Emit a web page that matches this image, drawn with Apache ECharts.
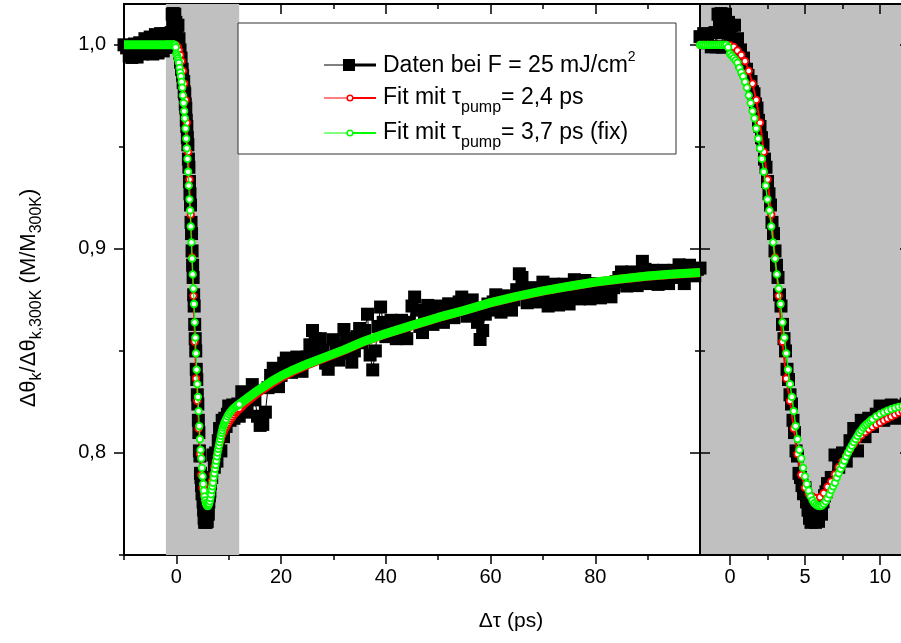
<!DOCTYPE html>
<html>
<head>
<meta charset="utf-8">
<title>Daten bei F = 25 mJ/cm2</title>
<script src="https://cdn.jsdelivr.net/npm/echarts@6.0.0/dist/echarts.min.js"></script>
<style>
html,body{margin:0;padding:0;background:#fff;}
#chart{width:901px;height:643px;}
</style>
</head>
<body>
<div id="chart"></div>
<script>
// Messdaten [t (ps), M/M300K]
var dataPre = [[-10,1.0000],[-9.5,0.9985],[-9,0.9945],[-8.5,0.9938],[-8,1.0004],[-7.5,0.9940],[-7,1.0010],[-6.5,0.9955],
  [-6,1.0030],[-5.5,0.9958],[-5,1.0038],[-4.5,0.9955],[-4,1.0050],[-3.5,0.9960],[-3,1.0055],[-2.5,0.9970]];
var dataPeak = [[-2,1.0040],[-1.75,1.0055],[-1.5,1.0010],[-1.25,0.9990],
  [-1,1.0060],[-0.9,0.9990],[-0.8,1.0150],[-0.7,1.0090],[-0.6,1.0153],[-0.5,0.9988],[-0.4,1.0140],[-0.3,1.0150],
  [-0.2,1.0060],[-0.1,1.0110],[0,1.0040],[0.1,1.0095],[0.2,1.0020],[0.3,1.0096],[0.4,0.9990],[0.5,1.0030],
  [0.6,0.9960],[0.7,0.9975],[0.8,0.9915],[0.9,0.9935],[1,0.9880],[1.1,0.9880],[1.2,0.9850],[1.3,0.9815],
  [1.4,0.9820],[1.5,0.9770],[1.6,0.9760],[1.7,0.9710],[1.8,0.9690],[1.9,0.9630],[2,0.9600],[2.1,0.9545],
  [2.2,0.9510],[2.3,0.9440],[2.4,0.9400],[2.5,0.9330],[2.6,0.9270],[2.7,0.9215],[2.8,0.9130],[2.9,0.9075],
  [3,0.8990],[3.1,0.8920],[3.2,0.8860],[3.3,0.8775],[3.4,0.8720],[3.5,0.8630],[3.6,0.8560],[3.7,0.8500],
  [3.8,0.8410],[3.9,0.8360],[4,0.8285],[4.1,0.8240],[4.2,0.8160],[4.3,0.8100],[4.4,0.8010],[4.5,0.7985],
  [4.6,0.7900],[4.7,0.7880],[4.8,0.7840],[4.9,0.7800],[5,0.7830],[5.1,0.7760],[5.2,0.7720],[5.3,0.7680],
  [5.4,0.7660],[5.5,0.7665],[5.6,0.7720],[5.7,0.7660],[5.8,0.7700],[5.9,0.7665],[6,0.7720],[6.1,0.7700],
  [6.2,0.7760],[6.3,0.7790],[6.4,0.7810],[6.5,0.7850],[6.75,0.7880],[7,0.7990],[7.25,0.7930],[7.5,0.8000],
  [7.75,0.7960],[8,0.8060],[8.25,0.8120],[8.5,0.8010],[8.75,0.8160],[9,0.8080],[9.25,0.8170],[9.5,0.8130],
  [9.75,0.8190],[10,0.8230],[10.25,0.8160],[10.5,0.8220],[10.75,0.8235],[11,0.8170],[11.25,0.8230],[11.5,0.8200],
  [11.75,0.8240],[12,0.8180]];
var dataTail = [[12.5,0.8300],[13,0.8240],[13.5,0.8200],[14,0.8290],[14.5,0.8335],[15,0.8260],[15.5,0.8180],[16,0.8135],
  [16.5,0.8140],[17,0.8200],[17.5,0.8320],[18,0.8380],[18.5,0.8415],[19,0.8350],[19.5,0.8325],[20,0.8380],
  [20.5,0.8440],[21,0.8465],[21.5,0.8420],[22,0.8395],[22.5,0.8440],[23,0.8470],[23.5,0.8430],[24,0.8400],
  [24.5,0.8450],[25,0.8470],[25.5,0.8530],[26,0.8600],[26.5,0.8560],[27,0.8500],[27.5,0.8560],[28,0.8505],
  [28.5,0.8440],[29,0.8410],[29.5,0.8470],[30,0.8555],[30.5,0.8500],[31,0.8455],[31.5,0.8520],[32,0.8605],
  [32.5,0.8560],[33,0.8490],[33.5,0.8445],[34,0.8500],[34.5,0.8570],[35,0.8610],[35.5,0.8540],[36,0.8600],
  [36.5,0.8680],[37,0.8480],[37.5,0.8407],[38,0.8500],[38.5,0.8620],[39,0.8715],[39.5,0.8640],[40,0.8570],
  [40.5,0.8610],[41,0.8650],[41.5,0.8600],[42,0.8560],[42.5,0.8620],[43,0.8650],[43.5,0.8600],[44,0.8560],
  [44.5,0.8640],[45,0.8720],[45.5,0.8764],[46,0.8700],[46.5,0.8620],[47,0.8590],[47.5,0.8680],[48,0.8723],
  [48.5,0.8670],[49,0.8630],[49.5,0.8680],[50,0.8720],[50.5,0.8660],[51,0.8640],[51.5,0.8700],[52,0.8731],
  [52.5,0.8690],[53,0.8663],[53.5,0.8700],[54,0.8740],[54.5,0.8764],[55,0.8720],[55.5,0.8670],[56,0.8700],
  [56.5,0.8750],[57,0.8700],[57.5,0.8640],[58,0.8556],[58.5,0.8600],[59,0.8680],[59.5,0.8730],[60,0.8700],
  [60.5,0.8740],[61,0.8775],[61.5,0.8720],[62,0.8690],[62.5,0.8740],[63,0.8770],[63.5,0.8730],[64,0.8700],
  [64.5,0.8750],[65,0.8800],[65.5,0.8878],[66,0.8860],[66.5,0.8800],[67,0.8736],[67.5,0.8760],[68,0.8810],
  [68.5,0.8760],[69,0.8740],[69.5,0.8800],[70,0.8837],[70.5,0.8780],[71,0.8720],[71.5,0.8760],[72,0.8827],
  [72.5,0.8790],[73,0.8725],[73.5,0.8770],[74,0.8827],[74.5,0.8790],[75,0.8730],[75.5,0.8780],[76,0.8849],
  [76.5,0.8800],[77,0.8755],[77.5,0.8800],[78,0.8845],[78.5,0.8800],[79,0.8755],[79.5,0.8800],[80,0.8830],
  [80.5,0.8790],[81,0.8760],[81.5,0.8800],[82,0.8830],[82.5,0.8790],[83,0.8765],[83.5,0.8810],[84,0.8840],
  [84.5,0.8860],[85,0.8887],[85.5,0.8840],[86,0.8818],[86.5,0.8860],[87,0.8887],[87.5,0.8840],[88,0.8820],
  [88.5,0.8880],[89,0.8939],[89.5,0.8900],[90,0.8830],[90.5,0.8870],[91,0.8895],[91.5,0.8850],[92,0.8826],
  [92.5,0.8870],[93,0.8895],[93.5,0.8850],[94,0.8830],[94.5,0.8870],[95,0.8895],[95.5,0.8860],[96,0.8922],
  [96.5,0.8880],[97,0.8830],[97.5,0.8880],[98,0.8920],[98.5,0.8870],[99,0.8868],[99.5,0.8900],[100,0.8906]];

// Fit mit tau_pump = 2,4 ps
var fitRed = [[-10,1],[-6,1],[-2,1],[-1.75,1],[-1.5,1],[-1.25,1],[-1,1],[-0.75,1],[-0.5,1],[-0.25,1],
  [0,0.9997],[0.25,0.9990],[0.5,0.9972],[0.75,0.9950],[1,0.9920],[1.25,0.9872],[1.5,0.9810],[1.75,0.9730],
  [2,0.9618],[2.25,0.9475],[2.5,0.9340],[2.75,0.9168],[3,0.8958],[3.25,0.8770],[3.5,0.8545],[3.75,0.8365],
  [4,0.8255],[4.25,0.8120],[4.5,0.7995],[4.75,0.7893],[5,0.7830],[5.25,0.7800],[5.5,0.7786],[5.75,0.7779],
  [6,0.7784],[6.25,0.7803],[6.5,0.7834],[6.75,0.7860],[7,0.7895],[7.25,0.7930],[7.5,0.7958],[7.75,0.7986],
  [8,0.8016],[8.25,0.8043],[8.5,0.8064],[8.75,0.8086],[9,0.8102],[9.25,0.8116],[9.5,0.8128],[9.75,0.8139],
  [10,0.8149],[10.25,0.8160],[10.5,0.8169],[10.75,0.8178],[11,0.8188],[11.25,0.8198],[11.5,0.8205],[11.75,0.8211],
  [12,0.8217],[13,0.8242],[14,0.8264],[15,0.8284],[16,0.8303],[18,0.8338],[20,0.8370],[22,0.8397],
  [25,0.8432],[28,0.8463],[32,0.8503],[36,0.8548],[40,0.8584],[45,0.8624],[50,0.8663],[55,0.8698],
  [60,0.8736],[65,0.8766],[70,0.8793],[75,0.8816],[80,0.8837],[85,0.8852],[90,0.8866],[95,0.8876],[100,0.8883]];

// Fit mit tau_pump = 3,7 ps (fix)
var fitGreen = [[-10,1],[-8,1],[-6,1],[-4,1],
  [-2,1],[-1.875,1],[-1.75,1],[-1.625,1],[-1.5,1],[-1.375,1],[-1.25,1],[-1.125,1],[-1,1],[-0.875,1],
  [-0.75,1],[-0.625,1],[-0.5,1],[-0.375,1],[-0.25,1],[-0.125,0.9988],[0,0.9956],[0.125,0.9946],[0.25,0.9935],
  [0.375,0.9924],[0.5,0.9912],[0.625,0.9887],[0.75,0.9865],[0.875,0.9845],[1,0.9818],[1.125,0.9790],[1.25,0.9752],
  [1.375,0.9715],[1.5,0.9675],[1.625,0.9640],[1.75,0.9590],[1.875,0.9540],[2,0.9493],[2.125,0.9441],[2.25,0.9378],
  [2.375,0.9310],[2.5,0.9243],[2.625,0.9189],[2.75,0.9110],[2.875,0.9032],[3,0.8952],[3.125,0.8875],[3.25,0.8806],
  [3.375,0.8730],[3.5,0.8640],[3.625,0.8565],[3.75,0.8488],[3.875,0.8408],[4,0.8337],[4.125,0.8275],[4.25,0.8205],
  [4.375,0.8132],[4.5,0.8068],[4.625,0.8015],[4.75,0.7973],[4.875,0.7927],[5,0.7885],[5.125,0.7848],[5.25,0.7815],
  [5.375,0.7787],[5.5,0.7768],[5.625,0.7754],[5.75,0.7746],[5.875,0.7741],[6,0.7740],[6.125,0.7742],[6.25,0.7751],
  [6.375,0.7763],[6.5,0.7779],[6.625,0.7797],[6.75,0.7818],[6.875,0.7836],[7,0.7854],[7.125,0.7879],[7.25,0.7900],
  [7.375,0.7922],[7.5,0.7942],[7.625,0.7962],[7.75,0.7983],[7.875,0.8002],[8,0.8020],[8.125,0.8036],[8.25,0.8053],
  [8.375,0.8068],[8.5,0.8084],[8.625,0.8099],[8.75,0.8111],[8.875,0.8124],[9,0.8134],[9.125,0.8142],[9.25,0.8150],
  [9.375,0.8158],[9.5,0.8165],[9.75,0.8179],[10,0.8190],[10.25,0.8199],[10.5,0.8207],[10.75,0.8215],[11,0.8221],
  [11.25,0.8226],[11.5,0.8230],[11.75,0.8234],[12,0.8238],[13,0.8258],[14,0.8277],[15,0.8296],[16,0.8314],
  [18,0.8348],[20,0.8378],[22,0.8403],[25,0.8436],[28,0.8466],[32,0.8505],[36,0.8549],[40,0.8585],
  [45,0.8625],[50,0.8664],[55,0.8699],[60,0.8737],[65,0.8767],[70,0.8794],[75,0.8817],[80,0.8838],
  [85,0.8853],[90,0.8867],[95,0.8877],[100,0.8884]];

// Achsen-Ticks
var mainMajorX = [0, 20, 40, 60, 80];
var mainMinorX = [-10, 10, 30, 50, 70, 90];
var zoomMajorX = [0, 5, 10];
var zoomMinorX = [2.5, 7.5];
var majorY = [0.8, 0.9, 1.0];
var minorY = [0.75, 0.85, 0.95];

var dataAll = dataPre.concat(dataPeak, dataTail);
var FONT = 'Liberation Sans, Arial, sans-serif';
var GRAY = '#c0c0c0';
var RED = '#ff0000', GREEN = '#00ff00';

function pick(arr, lo, hi){
  return arr.filter(function(p){ return p[0] >= lo && p[0] <= hi; });
}

function axis(dim, grid, pos, min, max, ticks, len, inside, labels){
  var a = {
    type: 'value', gridIndex: grid, position: pos, min: min, max: max,
    axisLine: {show: true, onZero: false, lineStyle: {color: '#000', width: 2}},
    axisTick: {show: true, customValues: ticks, length: len, inside: inside, lineStyle: {color: '#000', width: 1.5}},
    axisLabel: {show: false},
    splitLine: {show: false}
  };
  if(labels){
    a.axisLabel = {show: true, customValues: labels, color: '#000', fontSize: 20, fontFamily: FONT,
      margin: dim === 'y' ? 18 : 12,
      formatter: function(v){ return dim === 'y' ? v.toFixed(1).replace('.', ',') : String(v); }};
  }
  return a;
}

var xAxes = [
  axis('x', 0, 'bottom', -10, 100, mainMajorX, 9, false, mainMajorX),
  axis('x', 0, 'bottom', -10, 100, mainMinorX, 5, false),
  axis('x', 0, 'top', -10, 100, mainMajorX, 10, true),
  axis('x', 0, 'top', -10, 100, mainMinorX, 5, true),
  axis('x', 1, 'bottom', -2, 12, zoomMajorX, 10, false, zoomMajorX),
  axis('x', 1, 'bottom', -2, 12, zoomMinorX, 5, false),
  axis('x', 1, 'top', -2, 12, zoomMajorX, 10, true),
  axis('x', 1, 'top', -2, 12, zoomMinorX, 5, true)
];
var yAxes = [
  axis('y', 0, 'left', 0.75, 1.02, majorY, 10, false, majorY),
  axis('y', 0, 'left', 0.75, 1.02, minorY, 5, false),
  axis('y', 0, 'right', 0.75, 1.02, majorY, 10, true),
  axis('y', 0, 'right', 0.75, 1.02, minorY, 5, true),
  axis('y', 1, 'left', 0.75, 1.02, majorY, 10, true),
  axis('y', 1, 'left', 0.75, 1.02, minorY, 5, true),
  axis('y', 1, 'right', 0.75, 1.02, majorY, 10, true),
  axis('y', 1, 'right', 0.75, 1.02, minorY, 5, true)
];

function dataSeries(ax){
  return {type: 'line', xAxisIndex: ax, yAxisIndex: ax, data: dataAll, symbol: 'rect', symbolSize: 13,
    showAllSymbol: true, itemStyle: {color: '#000'}, lineStyle: {color: '#000', width: 1}, z: 2};
}
function fitSeries(ax, data, color, lw, z){
  return {type: 'line', xAxisIndex: ax, yAxisIndex: ax, data: data, symbol: 'circle', symbolSize: 6.5,
    showAllSymbol: true, itemStyle: {color: '#fff', borderColor: color, borderWidth: 1.8},
    lineStyle: {color: color, width: lw}, z: z};
}
function bandSeries(data, color, z){
  return {type: 'line', xAxisIndex: 0, yAxisIndex: 0, data: data, showSymbol: false,
    lineStyle: {color: color, width: 9}, z: z};
}

var main = dataSeries(0);
main.markArea = {silent: true, itemStyle: {color: GRAY}, data: [[{xAxis: -2}, {xAxis: 12}]]};

var series = [
  main,
  bandSeries(pick(fitRed, 11, 100), RED, 3),
  fitSeries(0, pick(fitRed, -2, 12), RED, 1.5, 3),
  bandSeries(pick(fitGreen, -10, -0.25), GREEN, 4),
  bandSeries(pick(fitGreen, 11.5, 100), GREEN, 4),
  fitSeries(0, pick(fitGreen, -2, 12), GREEN, 1.2, 4),
  dataSeries(4),
  fitSeries(4, fitRed, RED, 2, 3),
  fitSeries(4, fitGreen, GREEN, 1.5, 4)
];

// Legende
var legendRich = {
  m: {fontSize: 23, fontFamily: FONT, color: '#000'},
  sub: {fontSize: 16, fontFamily: FONT, color: '#000', padding: [19, 0, 0, 0]},
  sup: {fontSize: 14, fontFamily: FONT, color: '#000', padding: [0, 0, 18, 0]}
};
function legendText(y, txt){
  return {type: 'text', x: 383, y: y, z: 101,
    style: {text: txt, rich: legendRich, verticalAlign: 'middle', align: 'left'}};
}
function mark(y, color, light){
  return [
    {type: 'line', z: 101, shape: {x1: 324, y1: y, x2: 350, y2: y}, style: {stroke: light, lineWidth: 2}},
    {type: 'line', z: 101, shape: {x1: 350, y1: y, x2: 376, y2: y}, style: {stroke: color, lineWidth: 2}},
    {type: 'circle', z: 102, shape: {cx: 350, cy: y, r: 2.8}, style: {fill: '#fff', stroke: color, lineWidth: 1.5}}
  ];
}

var graphic = [
  {type: 'rect', z: 100, shape: {x: 238, y: 23, width: 438, height: 131}, style: {fill: '#fff', stroke: '#333', lineWidth: 1}},
  {type: 'line', z: 101, shape: {x1: 324, y1: 65, x2: 343, y2: 65}, style: {stroke: '#000', lineWidth: 1}},
  {type: 'rect', z: 101, shape: {x: 343, y: 59, width: 12, height: 12}, style: {fill: '#000'}},
  {type: 'line', z: 101, shape: {x1: 355, y1: 65, x2: 376, y2: 65}, style: {stroke: '#000', lineWidth: 3}},
  legendText(66, '{m|Daten bei F = 25 mJ/cm}{sup|2}'),
  legendText(98, '{m|Fit mit τ}{sub|pump}{m|= 2,4 ps}'),
  legendText(133, '{m|Fit mit τ}{sub|pump}{m|= 3,7 ps (fix)}'),
  // Achsentitel
  {type: 'text', x: 511, y: 621, style: {text: 'Δτ (ps)', fontSize: 21, fontFamily: FONT, fill: '#000', align: 'center', verticalAlign: 'middle'}},
  {type: 'text', x: 29, y: 298, rotation: Math.PI / 2,
    style: {text: '{m|Δθ}{s|k}{m|/Δθ}{s|k,300K}{m| (M/M}{s|300K}{m|)}', align: 'center', verticalAlign: 'middle',
      rich: {
        m: {fontSize: 22, fontFamily: FONT, color: '#000'},
        s: {fontSize: 16, fontFamily: FONT, color: '#000', padding: [15, 0, 0, 0]}
      }}}
].concat(mark(98, RED, '#ff8080'), mark(133, GREEN, '#80ff80'));

var chart = echarts.init(document.getElementById('chart'), null, {renderer: 'canvas'});
chart.setOption({
  animation: false,
  backgroundColor: '#fff',
  grid: [
    {left: 124, top: 4, width: 576, height: 551, outerBoundsMode: 'none'},
    {left: 700, top: 4, width: 210, height: 551, show: true, backgroundColor: GRAY, borderWidth: 0, outerBoundsMode: 'none'}
  ],
  xAxis: xAxes,
  yAxis: yAxes,
  series: series,
  graphic: graphic
});
</script>
</body>
</html>
